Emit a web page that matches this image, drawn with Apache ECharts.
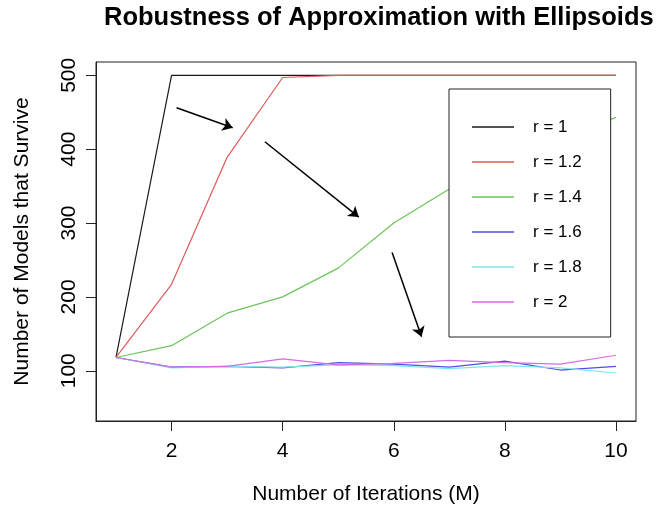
<!DOCTYPE html>
<html>
<head>
<meta charset="utf-8">
<script src="https://cdn.jsdelivr.net/npm/echarts@6/dist/echarts.min.js"></script>
<style>
html,body{margin:0;padding:0;background:#fff;}
#chart{width:657px;height:510px;}
</style>
</head>
<body>
<div id="chart"></div>
<script>
// ---- data ----
var iterations = [1, 2, 3, 4, 5, 6, 7, 8, 9, 10];
var seriesNames = ['r = 1', 'r = 1.2', 'r = 1.4', 'r = 1.6', 'r = 1.8', 'r = 2'];
var r1  = [118, 500, 500, 500, 500, 500, 500, 500, 500, 500];
var r12 = [118, 217, 389, 497, 500, 500, 500, 500, 500, 500];
var r14 = [118, 134, 178, 200, 239, 300, 346, 385, 415, 443];
var r16 = [118, 105, 106, 104, 111, 109, 105, 113, 101, 106];
var r18 = [118, 104, 106, 105, 108, 107, 103, 107, 104, 97];
var r20 = [118, 105, 106, 116, 108, 110, 114, 111, 109, 121];
var xTicks = [2, 4, 6, 8, 10];
var yTicks = [100, 200, 300, 400, 500];
// annotation arrows (data coordinates: [x, y] start, [x, y] end)
var arrowStarts = [[2.09, 456], [3.68, 410], [5.97, 260]];
var arrowEnds   = [[3.10, 429], [5.37, 308], [6.50, 146]];

var colors = ['#1a1a1a', '#de5a5a', '#6cc55a', '#4f4fe6', '#7ee6ee', '#d26ee0'];
var values = [r1, r12, r14, r16, r18, r20];

function pairs(v) { return iterations.map(function (x, i) { return [x, v[i]]; }); }

var series = seriesNames.map(function (n, i) {
  return {
    name: n,
    type: 'line',
    data: pairs(values[i]),
    symbol: 'none',
    showSymbol: false,
    smooth: false,
    lineStyle: { color: colors[i], width: 1.2 },
    itemStyle: { color: colors[i] },
    z: 2
  };
});
series[0].markLine = {
  silent: true,
  symbol: ['none', 'arrow'],
  symbolSize: 10,
  label: { show: false },
  lineStyle: { color: '#000', type: 'solid', width: 1.5 },
  data: arrowStarts.map(function (s, i) { return [{ coord: s }, { coord: arrowEnds[i] }]; })
};

var font = 'Liberation Sans, Arial, Helvetica, sans-serif';
var chart = echarts.init(document.getElementById('chart'), null, { renderer: 'canvas' });
chart.setOption({
  animation: false,
  backgroundColor: '#fff',
  title: {
    text: 'Robustness of Approximation with Ellipsoids',
    left: 104, top: 5, padding: 0,
    textStyle: { fontFamily: font, fontSize: 25.5, fontWeight: 'bold', color: '#000' }
  },
  grid: {
    left: 96, right: 21, top: 62, bottom: 88,
    show: true, borderColor: '#222', borderWidth: 1, backgroundColor: 'transparent'
  },
  legend: {
    data: seriesNames,
    orient: 'vertical',
    left: 449, top: 89,
    padding: [29, 29, 26, 23],
    backgroundColor: '#fff',
    borderColor: '#222', borderWidth: 1,
    icon: 'rect',
    itemWidth: 42, itemHeight: 1.5, itemGap: 17,
    textStyle: { fontFamily: font, fontSize: 17, color: '#000', lineHeight: 18, padding: [0, 0, 0, 14] },
    z: 10
  },
  xAxis: {
    type: 'value', min: 0.64, max: 10.36,
    name: 'Number of Iterations (M)', nameLocation: 'middle', nameGap: 63,
    nameTextStyle: { fontFamily: font, fontSize: 21, color: '#000' },
    axisLine: { show: true, lineStyle: { color: '#222' } },
    axisTick: { show: true, length: 10, customValues: xTicks, lineStyle: { color: '#222' } },
    axisLabel: { customValues: xTicks, fontFamily: font, fontSize: 21, color: '#000', margin: 20 },
    splitLine: { show: false }
  },
  yAxis: {
    type: 'value', min: 32, max: 518,
    name: 'Number of Models that Survive', nameLocation: 'middle', nameGap: 63,
    nameTextStyle: { fontFamily: font, fontSize: 21, color: '#000' },
    axisLine: { show: true, lineStyle: { color: '#222' } },
    axisTick: { show: true, length: 10, customValues: yTicks, lineStyle: { color: '#222' } },
    axisLabel: { customValues: yTicks, rotate: 90, fontFamily: font, fontSize: 21, color: '#000', margin: 16 },
    splitLine: { show: false }
  },
  series: series
});
</script>
</body>
</html>
